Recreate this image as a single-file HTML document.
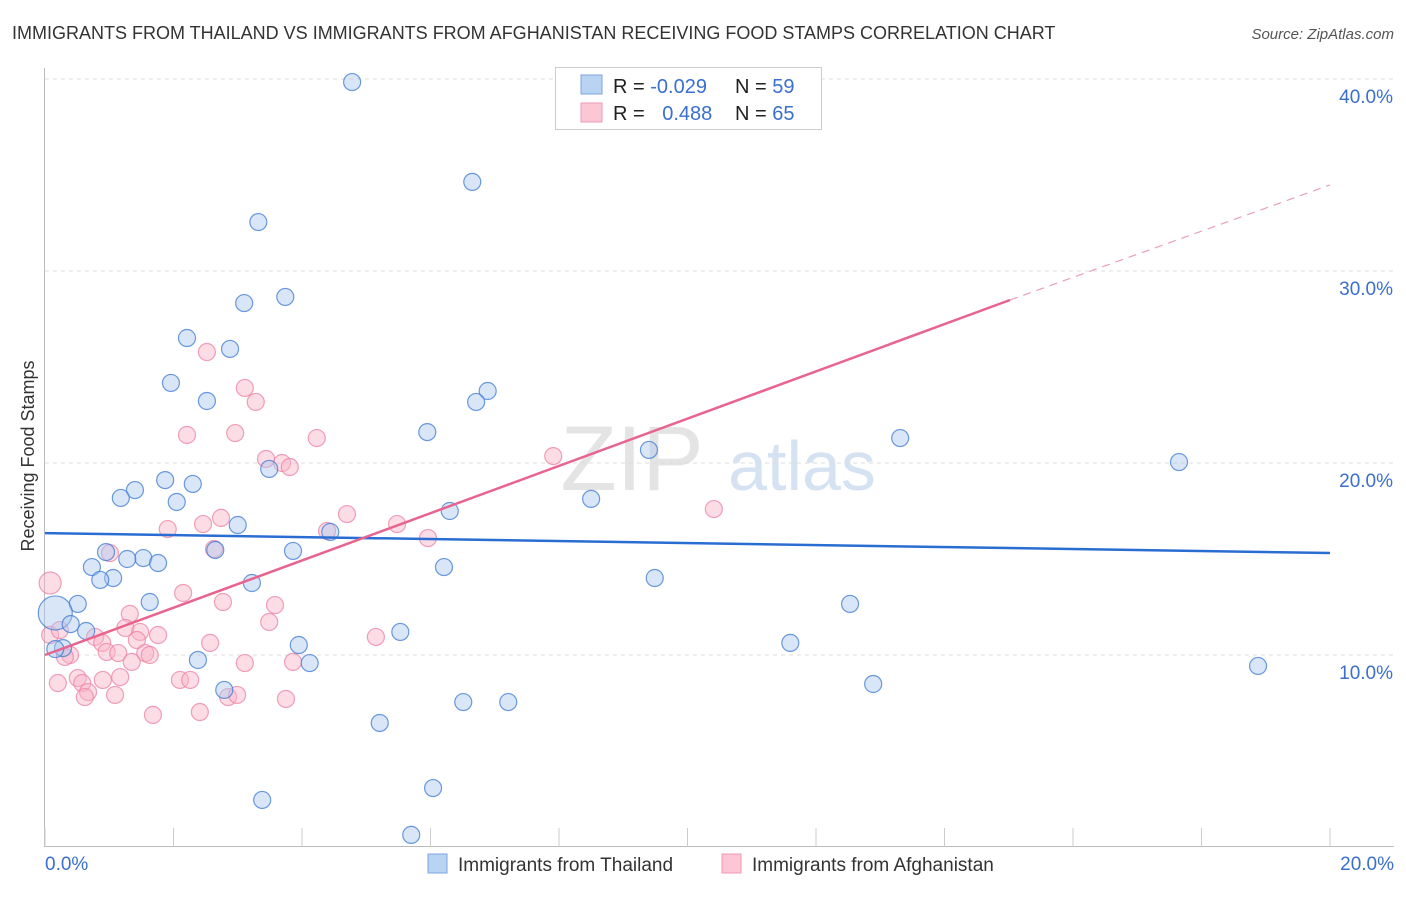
<!DOCTYPE html>
<html><head><meta charset="utf-8">
<style>
body{margin:0;background:#fff;font-family:"Liberation Sans",sans-serif;}
svg text{font-family:"Liberation Sans",sans-serif;}
</style></head>
<body>
<svg id="chart" width="1406" height="892" viewBox="0 0 1406 892" xmlns="http://www.w3.org/2000/svg">
<text x="12" y="39" font-size="18" fill="#333">IMMIGRANTS FROM THAILAND VS IMMIGRANTS FROM AFGHANISTAN RECEIVING FOOD STAMPS CORRELATION CHART</text>
<text x="1394" y="39" font-size="15" fill="#555" font-style="italic" text-anchor="end">Source: ZipAtlas.com</text>
<text transform="translate(34,456) rotate(-90)" font-size="18" fill="#333" text-anchor="middle">Receiving Food Stamps</text>
<g>
<text x="632" y="490" font-size="92" fill="#e4e4e4" font-family="Liberation Serif" text-anchor="middle">ZIP</text>
<text x="802" y="490" font-size="70" fill="#d5e2f2" text-anchor="middle">atlas</text>
</g>
<g id="grid"></g>
<g id="axes"></g>
<g id="points"></g>
<g id="lines"></g>
<g>
<rect x="555.5" y="67.5" width="266" height="62" fill="#fff" stroke="#ccc"/>
<rect x="581" y="75" width="21" height="19" fill="#b9d3f3" stroke="#7aa6e0"/>
<rect x="581" y="103" width="21" height="19" fill="#fcc6d5" stroke="#ef9ab4"/>
<text x="613" y="93" font-size="20" fill="#222">R = <tspan fill="#3a6fd0">-0.029</tspan></text>
<text x="735" y="93" font-size="20" fill="#222">N = <tspan fill="#3a6fd0">59</tspan></text>
<text x="613" y="120" font-size="20" fill="#222">R = <tspan fill="#3a6fd0" dx="12">0.488</tspan></text>
<text x="735" y="120" font-size="20" fill="#222">N = <tspan fill="#3a6fd0">65</tspan></text>
</g>
<g>
<rect x="428" y="854" width="19" height="19" fill="#b9d3f3" stroke="#7aa6e0"/>
<text x="458" y="871" font-size="19" fill="#333">Immigrants from Thailand</text>
<rect x="722" y="854" width="19" height="19" fill="#fcc6d5" stroke="#ef9ab4"/>
<text x="752" y="871" font-size="19" fill="#333">Immigrants from Afghanistan</text>
</g>
</svg>
<script>
const yTicks = [10, 20, 30, 40];
const yTickLabels = ["10.0%", "20.0%", "30.0%", "40.0%"];
const xTickValues = [0,2,4,6,8,10,12,14,16,18,20];
const xTickLabels = ["0.0%", "20.0%"];
const thailandX = [4.78,6.65,3.32,3.74,3.10,2.21,2.88,1.96,6.89,6.71,2.52,5.95,13.31,9.40,17.65,3.49,1.87,2.30,1.40,1.18,2.05,8.50,6.30,3.00,4.44,3.86,0.95,2.65,1.53,1.28,1.76,0.73,6.21,1.06,0.86,9.49,3.22,1.63,0.51,12.53,0.16,0.40,0.64,5.53,11.60,3.95,0.28,0.16,2.38,4.12,18.88,2.79,12.89,6.51,7.21,5.21,6.04,3.38,5.70];
const thailandY = [39.84,34.64,32.55,28.65,28.33,26.51,25.94,24.17,23.75,23.18,23.23,21.61,21.30,20.68,20.05,19.69,19.11,18.91,18.59,18.18,17.97,18.13,17.50,16.77,16.41,15.42,15.36,15.47,15.05,15.00,14.79,14.58,14.58,14.01,13.91,14.01,13.75,12.76,12.66,12.66,12.19,11.61,11.25,11.20,10.63,10.52,10.36,10.31,9.74,9.58,9.43,8.18,8.49,7.55,7.55,6.46,3.07,2.45,0.63];
const afghanX = [2.52,3.11,3.28,2.21,2.96,4.23,7.91,3.44,3.69,3.81,10.41,4.70,2.74,2.46,1.91,5.48,4.39,5.96,1.01,2.63,0.08,2.15,2.77,3.58,1.32,3.49,1.25,1.48,1.76,0.78,0.89,1.43,2.57,5.15,0.08,0.23,0.39,0.31,0.96,1.14,1.56,1.63,1.35,3.11,3.86,0.20,0.51,0.58,0.67,0.62,0.90,1.17,1.09,2.10,2.26,2.85,2.99,3.75,1.68,2.41];
const afghanY = [25.78,23.91,23.18,21.46,21.56,21.30,20.36,20.21,20.00,19.79,17.60,17.34,17.14,16.82,16.56,16.82,16.46,16.09,15.31,15.52,13.75,13.23,12.76,12.60,12.14,11.72,11.41,11.20,11.04,10.94,10.63,10.78,10.63,10.94,11.04,11.30,10.00,9.90,10.16,10.10,10.10,10.00,9.64,9.58,9.64,8.54,8.80,8.54,8.07,7.81,8.70,8.85,7.92,8.70,8.70,7.81,7.92,7.71,6.88,7.03];
const thailandFitX = [0, 20];
const thailandFitY = [16.35, 15.31];
const afghanFitX = [0, 15.02, 20];
const afghanFitY = [10.0, 28.49, 34.48];

const NS = "http://www.w3.org/2000/svg";
const X0 = 45, X1 = 1330, YZERO = 847, PXY = 19.2;
function sx(v){ return X0 + v * (X1 - X0) / 20; }
function sy(v){ return YZERO - v * PXY; }
function mk(tag, attrs, parent){
  const e = document.createElementNS(NS, tag);
  for (const k in attrs) e.setAttribute(k, attrs[k]);
  parent.appendChild(e);
  return e;
}
const grid = document.getElementById('grid');
const axes = document.getElementById('axes');
const pts = document.getElementById('points');
const lines = document.getElementById('lines');

yTicks.forEach((t, i) => {
  const l = mk('line', {x1: X0, x2: 1394, y1: sy(t), y2: sy(t), stroke: '#ddd', 'stroke-dasharray': '4,4'}, grid);
  
  
  const tx = mk('text', {x: 1393, y: sy(t) + 24, 'font-size': 19, fill: '#3a6fd0', 'text-anchor': 'end'}, grid);
  tx.textContent = yTickLabels[i];
  
  
});
const yAx = mk('line', {x1: 44.5, x2: 44.5, y1: 68, y2: 847, stroke: '#bbb'}, axes);


const xAx = mk('line', {x1: X0, x2: 1394, y1: 846.5, y2: 846.5, stroke: '#bbb'}, axes);


xTickValues.forEach(v => {
  const t = mk('line', {x1: sx(v), x2: sx(v), y1: 828, y2: 847, stroke: '#ccc'}, axes);
  
  
});
const xl0 = mk('text', {x: 45, y: 870, 'font-size': 19, fill: '#3a6fd0'}, axes);
xl0.textContent = xTickLabels[0];


const xl1 = mk('text', {x: 1394, y: 870, 'font-size': 19, fill: '#3a6fd0', 'text-anchor': 'end'}, axes);
xl1.textContent = xTickLabels[1];



afghanX.forEach((x, i) => {
  const c = mk('circle', {cx: sx(x), cy: sy(afghanY[i]), r: (i === 20 ? 11 : 8.5), fill: 'rgba(249,180,200,0.45)', stroke: 'rgba(235,130,165,0.75)', 'stroke-width': 1.2}, pts);
  
  
});
thailandX.forEach((x, i) => {
  const c = mk('circle', {cx: sx(x), cy: sy(thailandY[i]), r: (i === 40 ? 17 : 8.5), fill: 'rgba(170,200,240,0.45)', stroke: 'rgba(60,120,210,0.75)', 'stroke-width': 1.2}, pts);
  
  
});

const bl = mk('line', {x1: sx(thailandFitX[0]), y1: sy(thailandFitY[0]), x2: sx(thailandFitX[1]), y2: sy(thailandFitY[1]), stroke: '#2a6dd2', 'stroke-width': 2.5}, lines);


const pl = mk('line', {x1: sx(afghanFitX[0]), y1: sy(afghanFitY[0]), x2: sx(afghanFitX[1]), y2: sy(afghanFitY[1]), stroke: '#e8648f', 'stroke-width': 2.5}, lines);


const pd = mk('line', {x1: sx(afghanFitX[1]), y1: sy(afghanFitY[1]), x2: sx(afghanFitX[2]), y2: sy(afghanFitY[2]), stroke: '#e8a0b8', 'stroke-width': 1.2, 'stroke-dasharray': '8,6'}, lines);


</script>
</body></html>
